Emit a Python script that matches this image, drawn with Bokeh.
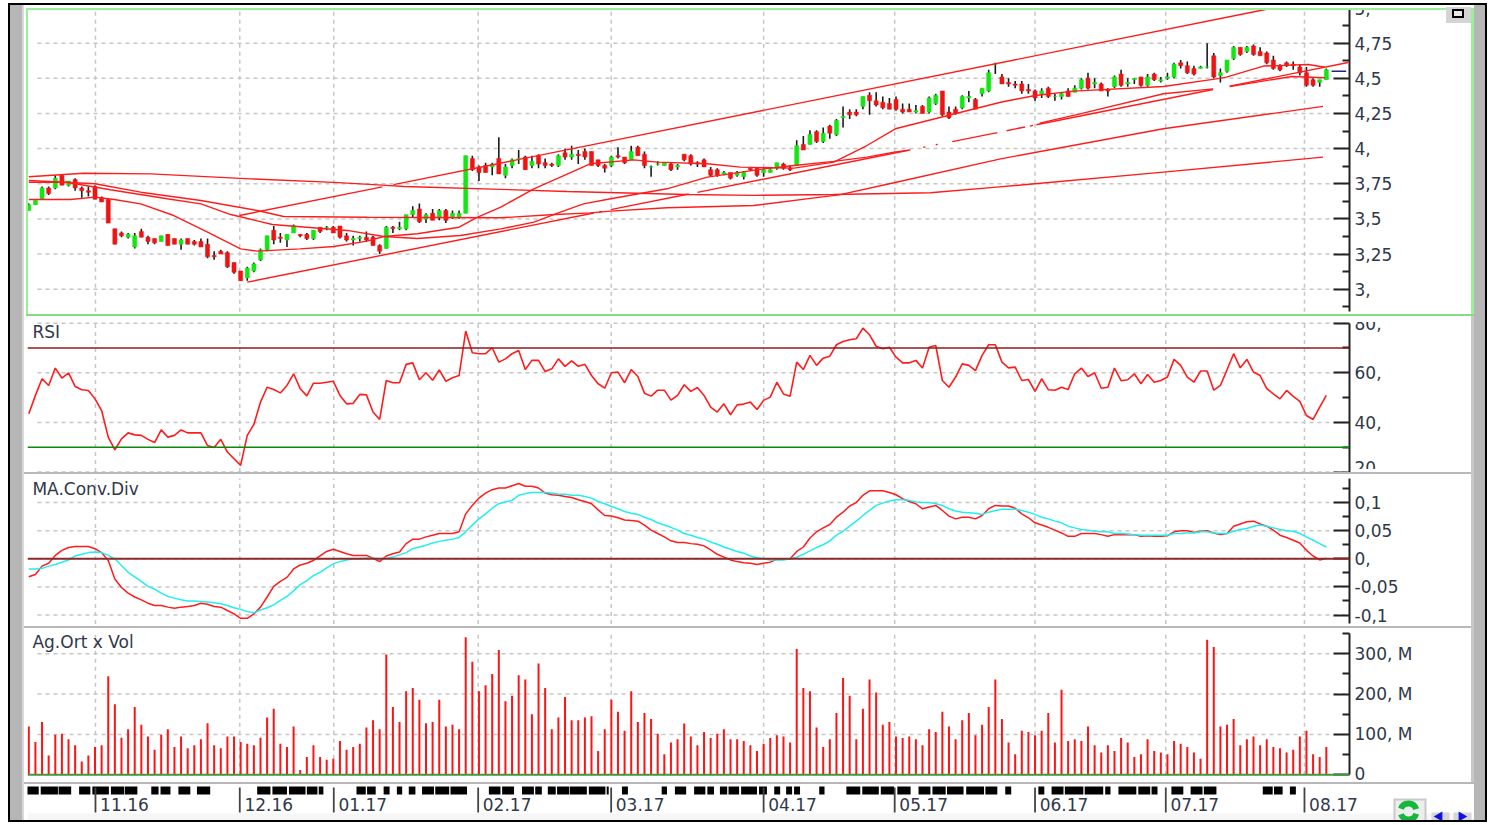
import math
from bokeh.plotting import figure
from bokeh.layouts import column, row
from bokeh.models import Range1d, FixedTicker, Span, Div
from bokeh.core.properties import value
from bokeh.embed import file_html
from bokeh.resources import INLINE

# ---------- data ----------
month_ticks = [10.07, 31.87, 46.07, 67.88, 87.97, 111.0, 130.8, 152.0, 171.75, 192.7]
month_labels = ["11.16", "12.16", "01.17", "02.17", "03.17", "04.17", "05.17", "06.17", "07.17", "08.17"]

opens = [3.56,3.60,3.64,3.72,3.72,3.81,3.74,3.78,3.72,3.70,
 3.73,3.65,3.64,3.43,3.40,3.37,3.30,3.41,3.37,3.36,
 3.34,3.39,3.36,3.32,3.36,3.34,3.34,3.32,3.24,3.27,
 3.26,3.19,3.13,3.08,3.13,3.21,3.28,3.42,3.37,3.35,
 3.40,3.39,3.39,3.36,3.44,3.44,3.44,3.45,3.38,3.35,
 3.36,3.37,3.37,3.31,3.29,3.44,3.43,3.43,3.53,3.57,
 3.50,3.54,3.51,3.56,3.51,3.51,3.54,3.93,3.87,3.88,
 3.87,3.93,3.81,3.88,3.93,3.94,3.88,3.95,3.90,3.89,
 3.88,3.97,3.94,3.96,3.98,3.98,3.92,3.88,3.88,3.95,
 3.94,3.92,4.01,3.96,3.87,3.89,3.88,3.89,3.87,3.96,
 3.95,3.90,3.92,3.85,3.85,3.82,3.83,3.81,3.80,3.86,
 3.86,3.83,3.83,3.86,3.89,3.86,3.88,4.03,4.03,4.12,
 4.05,4.16,4.10,4.22,4.26,4.26,4.30,4.38,4.34,4.33,
 4.32,4.35,4.28,4.28,4.26,4.30,4.26,4.32,4.41,4.26,
 4.28,4.29,4.36,4.35,4.39,4.41,4.60,4.51,4.47,4.46,
 4.46,4.42,4.41,4.39,4.43,4.37,4.37,4.41,4.40,4.43,
 4.50,4.46,4.46,4.42,4.44,4.53,4.46,4.49,4.51,4.45,
 4.53,4.48,4.50,4.51,4.61,4.59,4.57,4.57,4.58,4.66,
 4.52,4.55,4.64,4.72,4.69,4.73,4.69,4.68,4.63,4.59,
 4.61,4.60,4.58,4.54,4.49,4.47,4.49]
highs = [3.61,3.63,3.73,3.73,3.81,3.81,3.77,3.79,3.73,3.73,
 3.74,3.66,3.64,3.43,3.41,3.40,3.40,3.43,3.38,3.36,
 3.38,3.39,3.36,3.36,3.36,3.35,3.36,3.36,3.27,3.28,
 3.27,3.19,3.13,3.16,3.19,3.29,3.38,3.45,3.40,3.39,
 3.46,3.39,3.40,3.42,3.44,3.45,3.45,3.45,3.40,3.38,
 3.38,3.41,3.38,3.32,3.45,3.45,3.48,3.53,3.59,3.61,
 3.54,3.57,3.57,3.57,3.56,3.56,3.95,3.95,3.88,3.90,
 3.90,4.08,3.89,3.93,3.99,3.95,3.95,3.96,3.93,3.90,
 3.96,4.00,4.02,3.99,4.00,3.98,3.92,3.89,3.95,4.01,
 3.94,4.02,4.02,3.98,3.88,3.91,3.90,3.90,3.89,3.96,
 3.96,3.91,3.93,3.87,3.86,3.84,3.83,3.84,3.84,3.86,
 3.86,3.86,3.86,3.90,3.90,3.88,4.06,4.09,4.13,4.13,
 4.15,4.17,4.21,4.30,4.28,4.28,4.37,4.40,4.40,4.37,
 4.36,4.37,4.32,4.32,4.31,4.31,4.37,4.39,4.41,4.30,
 4.30,4.38,4.41,4.36,4.43,4.56,4.61,4.53,4.50,4.48,
 4.48,4.46,4.42,4.43,4.44,4.39,4.40,4.43,4.45,4.50,
 4.54,4.50,4.47,4.43,4.52,4.56,4.50,4.50,4.51,4.53,
 4.54,4.51,4.54,4.61,4.63,4.62,4.59,4.59,4.75,4.68,
 4.57,4.63,4.73,4.72,4.73,4.74,4.72,4.69,4.66,4.60,
 4.62,4.62,4.60,4.58,4.50,4.49,4.57]
lows = [3.56,3.60,3.64,3.67,3.71,3.74,3.73,3.70,3.65,3.66,
 3.64,3.62,3.47,3.32,3.37,3.36,3.29,3.37,3.32,3.32,
 3.34,3.31,3.32,3.28,3.32,3.31,3.30,3.22,3.21,3.25,
 3.15,3.11,3.06,3.06,3.12,3.20,3.27,3.32,3.33,3.30,
 3.40,3.37,3.35,3.35,3.40,3.42,3.40,3.36,3.34,3.31,
 3.34,3.34,3.31,3.25,3.29,3.40,3.42,3.42,3.51,3.47,
 3.47,3.49,3.49,3.47,3.50,3.50,3.54,3.84,3.77,3.83,
 3.81,3.82,3.79,3.86,3.89,3.85,3.86,3.86,3.86,3.87,
 3.87,3.92,3.92,3.89,3.92,3.88,3.87,3.83,3.87,3.93,
 3.89,3.92,3.95,3.86,3.80,3.88,3.88,3.84,3.85,3.91,
 3.88,3.87,3.87,3.80,3.80,3.81,3.78,3.80,3.78,3.84,
 3.80,3.80,3.83,3.85,3.85,3.84,3.88,3.99,4.03,4.04,
 4.04,4.07,4.09,4.15,4.21,4.23,4.28,4.24,4.30,4.28,
 4.28,4.27,4.25,4.26,4.25,4.25,4.25,4.31,4.23,4.21,
 4.24,4.28,4.33,4.28,4.37,4.40,4.53,4.46,4.44,4.43,
 4.39,4.39,4.34,4.36,4.36,4.34,4.35,4.37,4.40,4.42,
 4.42,4.43,4.41,4.37,4.43,4.44,4.44,4.46,4.44,4.44,
 4.48,4.47,4.49,4.50,4.57,4.53,4.52,4.57,4.57,4.50,
 4.47,4.54,4.63,4.66,4.68,4.66,4.66,4.60,4.56,4.55,
 4.58,4.56,4.52,4.44,4.44,4.44,4.49]
closes = [3.60,3.63,3.72,3.68,3.79,3.74,3.77,3.72,3.70,3.69,
 3.64,3.62,3.47,3.32,3.38,3.39,3.38,3.37,3.34,3.33,
 3.38,3.31,3.32,3.35,3.32,3.32,3.30,3.23,3.23,3.25,
 3.16,3.12,3.06,3.15,3.18,3.28,3.38,3.35,3.36,3.39,
 3.45,3.38,3.36,3.42,3.41,3.44,3.40,3.37,3.35,3.36,
 3.37,3.35,3.31,3.27,3.44,3.43,3.44,3.53,3.56,3.48,
 3.53,3.49,3.56,3.49,3.54,3.54,3.95,3.85,3.83,3.83,
 3.89,3.82,3.87,3.92,3.93,3.85,3.91,3.89,3.88,3.88,
 3.95,3.94,3.96,3.95,3.94,3.88,3.88,3.86,3.94,3.94,
 3.90,3.98,3.95,3.88,3.87,3.89,3.90,3.85,3.88,3.92,
 3.89,3.89,3.87,3.81,3.81,3.83,3.79,3.83,3.83,3.85,
 3.81,3.85,3.85,3.90,3.86,3.85,4.02,3.99,4.10,4.05,
 4.11,4.11,4.20,4.23,4.24,4.24,4.37,4.34,4.31,4.29,
 4.28,4.28,4.26,4.26,4.27,4.25,4.36,4.38,4.24,4.22,
 4.25,4.37,4.37,4.28,4.43,4.54,4.60,4.46,4.46,4.45,
 4.41,4.41,4.36,4.41,4.37,4.37,4.39,4.37,4.43,4.49,
 4.43,4.47,4.41,4.41,4.51,4.45,4.47,4.50,4.45,4.51,
 4.49,4.49,4.51,4.60,4.59,4.54,4.53,4.58,4.58,4.51,
 4.54,4.63,4.72,4.67,4.72,4.67,4.66,4.61,4.57,4.56,
 4.59,4.59,4.54,4.45,4.45,4.49,4.56]

rsi = [43.5,50.9,57.6,54.9,61.9,57.9,60,54.5,53.2,52.9,
 49.5,44.8,34.1,29,33.4,35.8,35,34.8,33.2,31.9,
 37,34.1,34.8,37,35.8,35.8,35.8,30.7,29.9,33.2,
 28.1,25.4,22.7,34.8,39.2,48.2,54.2,53.3,51.9,54.9,
 59.6,53.6,50.7,55.8,55.8,56.2,56.6,50.9,47.5,47.7,
 51.3,51.1,44.2,41.2,56.9,56,56,63.4,64,57.2,
 60,57,61.2,56.6,58,58.9,76.8,68.1,67.7,67.7,
 70.1,64.3,65.6,67.7,69,61.3,65,65,60.5,61.6,
 65.6,62.6,64.8,62.6,63.4,58.9,55.6,53.8,60,60.3,
 56,61.3,58.5,51.8,50.6,53,53,49,50.9,55.2,
 52.5,54.1,50.9,46.2,44.2,47.5,43.1,47.1,47.4,48.2,
 45.2,48.9,50.2,56.2,51.5,50.6,64.3,61.3,67,63,
 65.9,66.7,71.3,72.6,73.3,73.7,78,75.3,70.7,69.7,
 70.3,66.3,64,64,65,61.9,70.3,71,56.9,54.2,
 58.3,63.6,63,60.9,67,71.3,71.3,64.3,62,62.3,
 56.9,57.3,52.5,57.6,53.2,53,54.2,53.3,59.6,61.9,
 58.5,60,53.8,54.2,61.9,56.8,57.2,59.6,55.6,59.3,
 56.2,56.9,58.3,65.4,63,58.3,56.2,60.7,60.7,53,
 54.9,61.2,67.7,62,65.4,60.3,58.9,53.6,51.5,49.5,
 52.9,50.5,48.5,42.8,41.2,46.2,50.9]

macd = [-.032,-.028,-.013,-.008,.006,.015,.020,.022,.022,.022,
 .018,.011,-.003,-.036,-.051,-.061,-.068,-.073,-.079,-.083,
 -.083,-.086,-.088,-.086,-.085,-.083,-.079,-.081,-.085,-.086,
 -.092,-.098,-.106,-.106,-.098,-.086,-.068,-.049,-.040,-.033,
 -.018,-.011,-.008,-.003,.005,.013,.017,.013,.009,.006,
 .006,.006,.001,-.005,.005,.009,.012,.027,.035,.035,
 .039,.042,.045,.045,.045,.048,.080,.095,.108,.117,
 .123,.126,.126,.130,.134,.129,.129,.126,.117,.114,
 .113,.111,.109,.105,.102,.098,.087,.077,.076,.073,
 .069,.068,.067,.060,.051,.045,.039,.032,.029,.029,
 .027,.026,.023,.016,.008,.003,-.002,-.005,-.007,-.008,
 -.010,-.008,-.006,-.001,-.001,0,.013,.021,.037,.048,
 .055,.061,.074,.083,.094,.100,.113,.121,.121,.121,
 .118,.114,.107,.102,.098,.089,.092,.095,.086,.076,
 .071,.074,.074,.071,.077,.089,.095,.094,.094,.090,
 .080,.073,.064,.060,.056,.051,.046,.040,.040,.045,
 .045,.045,.043,.040,.043,.043,.043,.043,.040,.041,
 .040,.040,.041,.048,.050,.050,.047,.049,.050,.046,
 .043,.045,.058,.062,.066,.067,.062,.058,.051,.042,
 .038,.033,.028,.015,.005,-.002,.001]
signal = [-.018,-.018,-.017,-.013,-.010,-.006,-.002,.005,.008,.011,
 .012,.011,.006,0,-.012,-.024,-.032,-.040,-.049,-.054,
 -.061,-.067,-.070,-.073,-.075,-.075,-.076,-.077,-.078,-.080,
 -.083,-.087,-.090,-.094,-.096,-.091,-.087,-.082,-.074,-.067,
 -.057,-.046,-.039,-.030,-.024,-.016,-.009,-.005,-.002,0,
 0,.001,.001,0,.001,.003,.007,.011,.018,.021,
 .024,.028,.031,.033,.035,.038,.048,.060,.071,.080,
 .090,.098,.101,.104,.113,.116,.118,.118,.118,.117,
 .115,.115,.113,.113,.111,.108,.102,.098,.093,.089,
 .084,.081,.079,.074,.070,.064,.060,.056,.051,.045,
 .042,.038,.035,.030,.026,.021,.017,.013,.010,.005,
 .002,0,-.002,-.002,-.002,0,.003,.008,.014,.020,
 .025,.032,.042,.049,.058,.067,.077,.086,.095,.099,
 .103,.105,.105,.104,.101,.100,.100,.098,.095,.089,
 .085,.083,.082,.081,.079,.083,.086,.088,.088,.088,
 .086,.083,.079,.074,.071,.067,.064,.058,.055,.052,
 .051,.049,.048,.048,.045,.045,.044,.043,.042,.042,
 .042,.042,.042,.045,.045,.046,.046,.048,.048,.046,
 .045,.045,.049,.052,.054,.058,.060,.058,.055,.052,
 .050,.049,.045,.039,.033,.027,.021]

volume = [120,81,131,48,99,102,88,73,33,48,
 69,73,244,175,92,113,168,124,95,62,
 99,113,69,95,66,73,88,128,73,66,
 95,95,81,77,73,92,142,164,77,69,
 120,12,44,73,44,37,40,84,62,69,
 77,117,135,113,298,168,131,207,215,186,
 128,131,186,120,124,113,341,280,207,222,
 250,309,182,196,247,236,150,276,215,113,
 142,193,135,135,142,145,59,113,186,156,
 109,207,131,153,138,102,51,80,88,127,
 95,73,106,91,102,113,88,88,84,73,
 59,77,91,98,95,80,312,215,207,117,
 69,88,153,240,196,88,164,236,204,124,
 131,95,91,95,88,73,113,106,156,120,
 88,135,153,98,124,168,236,138,80,51,
 109,106,98,109,153,80,211,84,88,84,
 120,73,55,73,59,91,80,44,51,88,
 59,55,51,84,77,69,55,40,335,317,
 120,124,138,73,88,95,73,88,69,66,
 55,62,95,109,51,44,69]

# overlay lines on the price panel: day index and price, read at their bends; None marks a break in the line
upper_x = [31.8, 53.4, None, 55.1, 186.8]
upper_y = [3.524, 3.728, None, 3.744, 4.989]
lower_x = [33.0,85.35,None,86.15,86.6,None,87.9,99.7,None,101,132.9,None,135.1,135.45,None,137,137.3,None,139.5,146.3,None,147.7,150.5,None,151.2,151.7,None,152.2,178.9,None,181.4,199.3]
lower_y = [3.05,3.542,None,3.549,3.553,None,3.566,3.677,None,3.689,3.988,None,4.009,4.012,None,4.027,4.030,None,4.050,4.114,None,4.127,4.154,None,4.160,4.165,None,4.170,4.420,None,4.444,4.612]
slow_x = [0,8.3,18.4,33.5,46.1,53.4,56.7,71.3,81.3,99.4,109.5,121.6,136.2,146.2,152,171.4,195.5]
slow_y = [3.80,3.825,3.82,3.785,3.76,3.74,3.73,3.71,3.695,3.674,3.667,3.674,3.686,3.726,3.75,3.833,3.939]
mid_x = [0,10,16.9,26,34.5,38.5,51.1,71.3,78.8,84.8,87.9,96.4,109.5,119.6,122.4,130.7,146.8,171.4,195.5]
mid_y = [3.773,3.75,3.69,3.631,3.56,3.517,3.512,3.508,3.529,3.543,3.555,3.579,3.595,3.655,3.671,3.757,3.927,4.141,4.30]
third_x = [0,5.8,12.3,20.9,26,30.5,36.8,48.1,53.6,58.7,65.2,71.3,76.3,80.3,83.8,87.9,96.4,102.5,111,115.6,121.6,126.6,130.7,133.2,None,152.7,158.8,171.4,178.9,None,181.4,190.8,195.8]
third_y = [3.761,3.761,3.707,3.643,3.607,3.531,3.46,3.418,3.375,3.361,3.382,3.429,3.477,3.548,3.607,3.643,3.714,3.797,3.856,3.88,3.909,3.939,3.975,3.991,None,4.181,4.247,4.39,4.425,None,4.442,4.513,4.504]
fast_x = [0,6.3,10,12.9,16.9,21.9,27,32,34.5,41,46.1,51.1,53.6,58.7,65,67.8,71.3,76.3,84.8,91.4,94.9,102.5,107.5,115.6,121.6,126.6,130.9,146.8,152,157.8,171.4,179.4,180.9,186.5,193.3,195.8]
fast_y = [3.638,3.638,3.655,3.638,3.607,3.524,3.406,3.287,3.271,3.287,3.304,3.342,3.375,3.394,3.441,3.512,3.584,3.714,3.892,3.92,3.904,3.892,3.868,3.861,3.904,4.022,4.141,4.33,4.378,4.409,4.442,4.496,4.508,4.587,4.598,4.579]
last_marker_x, last_marker_y = [196.8, 199.0], [4.55, 4.55]

price_ticks = [3, 3.25, 3.5, 3.75, 4, 4.25, 4.5, 4.75, 5]
price_labels = ["3,", "3,25", "3,5", "3,75", "4,", "4,25", "4,5", "4,75", "5,"]
price_minor = [2.875, 3.125, 3.375, 3.625, 3.875, 4.125, 4.375, 4.625, 4.875]
rsi_ticks, rsi_labels, rsi_minor = [20, 40, 60, 80], ["20,", "40,", "60,", "80,"], [30, 50, 70]
macd_ticks = [-0.1, -0.05, 0, 0.05, 0.1]
macd_labels = ["-0,1", "-0,05", "0,", "0,05", "0,1"]
macd_minor = [-0.075, -0.025, 0.025, 0.075, 0.125]
vol_ticks, vol_labels, vol_minor = [0, 100, 200, 300], ["0", "100, M", "200, M", "300, M"], [50, 150, 250, 350]

# sessions marked in the date strip: start and end, in day index
day_blocks = [(-1,1.5),(1.8,4.4),(4.5,6.4),(7.6,9.3),(9.6,12.1),(12.4,14.4),(14.5,16.4),(18.5,19.6),(19.9,21.4),
 (22.6,24.4),(25.4,27.4),(34.5,36.5),(36.8,39),(39.3,41.8),(42,43.6),(43.8,44.5),(49.5,50.9),(51.1,52.4),
 (53.6,54.5),(55.6,56.4),(57.4,58.4),(59.4,61.2),(61.4,63.5),(63.7,66.2),(69.5,71.25),(71.5,73.3),(74.5,76.3),
 (76.5,77.5),(78.4,79.6),(79.8,81.6),(81.7,84.3),(84.6,87.1),(87.3,87.6),(89.6,90.5),(95.6,96.4),(97.6,99.3),
 (100.5,102.2),(102.5,103.5),(104.4,105.5),(105.7,107.3),(107.6,110),(110.3,111.5),(112.6,113.5),(114.4,115.3),
 (115.6,116.5),(119.4,120.2),(123.5,125.6),(125.9,128.4),(128.7,130.7),(131.2,133.2),(134.4,136.2),(136.5,138.5),
 (138.7,141.2),(141.6,144.3),(144.5,146.3),(147.5,148.4),(152.5,153.4),(154.5,156.3),(156.5,159.3),(159.5,162.3),
 (162.6,163.4),(164.6,167.3),(167.6,169.4),(169.6,170.5),(172.6,174.4),(175.5,177.3),(177.5,179.4),(186.4,187.9),
 (188.1,189.4),(190.5,191.4)]

assert len(opens) == len(highs) == len(lows) == len(closes) == len(rsi) == len(macd) == len(signal) == len(volume) == 197

# ---------- style ----------
days = list(range(197))
SPACE = 6.62
X0 = 28.3
FONT = "DejaVu Sans"
FS = "17px"
RED = "#ff1c1c"
TXT = "#30384a"
GRIDC = "#c6c6c6"
FRAME_W = 1322

def px2day(px):
    return (px - X0) / SPACE

def nn(v):
    return [float("nan") if a is None else a for a in v]

def panel(h_total, top_pad, frame_h, y0, y1, ticks, labels, minor, bounds):
    p = figure(frame_width=FRAME_W, frame_height=frame_h, min_border_left=0, min_border_right=147,
               min_border_top=top_pad, min_border_bottom=h_total - top_pad - frame_h, frame_align=False,
               x_range=Range1d(px2day(27), px2day(27 + FRAME_W)), y_range=Range1d(y0, y1),
               x_axis_location=None, y_axis_location="right", toolbar_location=None, output_backend="svg",
               background_fill_color="white", border_fill_color="white", outline_line_color=None)
    p.grid.visible = False
    ax = p.yaxis[0]
    ax.ticker = FixedTicker(ticks=ticks, minor_ticks=minor)
    ax.major_label_overrides = dict(zip(ticks, labels))
    ax.bounds = bounds
    ax.axis_line_color = "#222222"
    ax.axis_line_width = 2
    ax.major_tick_line_color = "#222222"
    ax.major_tick_line_width = 2
    ax.minor_tick_line_color = "#222222"
    ax.minor_tick_line_width = 2
    ax.major_tick_in, ax.major_tick_out = 16, 0
    ax.minor_tick_in, ax.minor_tick_out = 7, 0
    ax.major_label_standoff = 5
    ax.major_label_text_font = FONT
    ax.major_label_text_font_size = FS
    ax.major_label_text_color = TXT
    p.segment(x0=[px2day(37)] * len(ticks), x1=[px2day(1349)] * len(ticks), y0=ticks, y1=ticks,
              line_color=GRIDC, line_width=1.5, line_dash="4 4")
    vlo, vhi = bounds
    p.segment(x0=month_ticks, x1=month_ticks, y0=[vlo] * len(month_ticks), y1=[vhi] * len(month_ticks),
              line_color=GRIDC, line_width=1.5, line_dash="4 4")
    return p

# window chrome, in page pixels, laid over the panels
chrome = []
def rect(l, t, r, b, c):
    chrome.append(f'<div style="position:fixed;left:{l}px;top:{t}px;width:{r-l}px;height:{b-t}px;background:{c};z-index:10"></div>')

rect(0, 0, 1496, 3, "#ffffff")
rect(8, 3, 1487, 5, "#000000")
rect(24, 5, 1471, 8, "#ffffff")
rect(8, 5, 10, 822, "#000000")
rect(10, 5, 22, 820, "#b6b6b6")
rect(22, 5, 24, 820, "#d8d8d8")
rect(1474, 5, 1485, 820, "#b6b6b6")
rect(1485, 5, 1487, 822, "#000000")
rect(1471, 316, 1474, 783, "#c8c8c8")
rect(26, 8, 1474, 10, "#98f098")
rect(26, 8, 28, 315, "#98f098")
rect(1471, 8, 1474, 315, "#98f098")
rect(26, 314, 1474, 316, "#84dc84")
rect(1446, 7, 1471, 23, "#d4d4d4")
rect(1452, 9, 1464, 18, "#000000")
rect(1454, 11, 1462, 16, "#e8e8e8")
rect(1351, 316, 1470, 322, "#ffffff")
rect(1351, 469, 1470, 472, "#ffffff")
rect(24, 472, 1471, 474, "#b8b8b8")
rect(24, 626, 1471, 628, "#b8b8b8")
rect(24, 782, 1474, 784, "#b8b8b8")
rect(8, 820, 1487, 822, "#000000")
rect(0, 822, 1496, 825, "#ffffff")

# ---------- price ----------
p1 = panel(316, 7, 308, 3 + (288.7 - 315) / 140.6, 3 + (288.7 - 7) / 140.6,
           price_ticks, price_labels, price_minor, (2.84, 5.0))
p1.segment(days, lows, days, highs, line_color="#1c1c1c", line_width=1.6)
up = [i for i in days if closes[i] >= opens[i]]
dn = [i for i in days if closes[i] < opens[i]]
p1.vbar(up, width=0.62, bottom=[opens[i] for i in up], top=[closes[i] for i in up],
        fill_color="#14e614", line_color="#14e614", line_width=0.5)
p1.vbar(dn, width=0.62, bottom=[closes[i] for i in dn], top=[opens[i] for i in dn],
        fill_color="#ee1414", line_color="#ee1414", line_width=0.5)
for xs, ys in [(upper_x, upper_y), (lower_x, lower_y), (slow_x, slow_y), (mid_x, mid_y), (third_x, third_y), (fast_x, fast_y)]:
    p1.line(nn(xs), nn(ys), line_color=RED, line_width=1.4)
p1.line(last_marker_x, last_marker_y, line_color="#20208c", line_width=1.5)

# ---------- RSI ----------
p2 = panel(157, 1, 155, 60 - (472 - 372.3) / 2.483, 60 + (372.3 - 317) / 2.483,
           rsi_ticks, rsi_labels, rsi_minor, (20, 80))
p2.add_layout(Span(location=70, dimension="width", line_color="#8c1c1c", line_width=1.5))
p2.add_layout(Span(location=30, dimension="width", line_color="#0a8a0a", line_width=1.5))
p2.line(days, rsi, line_color=RED, line_width=1.6)
p2.text(x=[0.55], y=[60 + (372.3 - 331) / 2.483], text=["RSI"], text_font=value(FONT), text_font_size=FS,
        text_color=TXT, text_baseline="middle")

# ---------- MACD ----------
p3 = panel(154, 1, 152, -(626 - 558.3) / 562, (558.3 - 474) / 562,
           macd_ticks, macd_labels, macd_minor, (-0.116, 0.1429))
p3.add_layout(Span(location=0, dimension="width", line_color="#8c2a2a", line_width=2))
p3.line(days, macd, line_color=RED, line_width=1.5)
p3.line(days, signal, line_color="#22eeee", line_width=1.5)
p3.text(x=[0.55], y=[(558.3 - 488) / 562], text=["MA.Conv.Div"], text_font=value(FONT), text_font_size=FS,
        text_color=TXT, text_baseline="middle")

# ---------- volume ----------
p4 = panel(156, 1, 154, -(782 - 774.3) / 0.4035, (774.3 - 628) / 0.4035,
           vol_ticks, vol_labels, vol_minor, (0, 350))
p4.segment(days, [0] * 197, days, volume, line_color="#ff1414", line_width=2)
p4.add_layout(Span(location=0, dimension="width", line_color="#3f9a3f", line_width=2))
p4.text(x=[0.55], y=[(774.3 - 641) / 0.4035], text=["Ag.Ort x Vol"], text_font=value(FONT), text_font_size=FS,
        text_color=TXT, text_baseline="middle")

# ---------- date strip ----------
p5 = figure(frame_width=1469, frame_height=42, min_border=0, frame_align=False,
            x_range=Range1d(px2day(27), px2day(1496)),
            y_range=Range1d(42, 0), x_axis_location=None, y_axis_location=None, toolbar_location=None,
            output_backend="svg", background_fill_color="white", border_fill_color="white", outline_line_color=None)
p5.grid.visible = False
p5.quad(left=[px2day(27)], right=[px2day(1471)], top=[30], bottom=[37], fill_color="#f6f6f6", line_color=None)
p5.quad(left=[b[0] for b in day_blocks], right=[b[1] for b in day_blocks], top=[3] * len(day_blocks),
        bottom=[11] * len(day_blocks), fill_color="#000000", line_color=None)
p5.segment(month_ticks, [4] * 10, month_ticks, [29] * 10, line_color="#444444", line_width=1.8)
p5.text(x=[m + 0.7 for m in month_ticks], y=[21] * 10, text=month_labels, text_font=value(FONT),
        text_font_size=FS, text_color=TXT, text_baseline="middle")
p5.quad(left=[px2day(1393)], right=[px2day(1426)], top=[15], bottom=[37], fill_color="#c9c9c9", line_color=None)
p5.quad(left=[px2day(1395)], right=[px2day(1424)], top=[17], bottom=[37], fill_color="#eeeeee", line_color=None)
p5.annular_wedge(x=[px2day(1408)], y=[28], inner_radius=5, outer_radius=11, inner_radius_units="screen",
                 outer_radius_units="screen", start_angle=[0.3], end_angle=[2.8], fill_color="#16b83c", line_color=None)
p5.annular_wedge(x=[px2day(1408)], y=[28], inner_radius=5, outer_radius=11, inner_radius_units="screen",
                 outer_radius_units="screen", start_angle=[3.5], end_angle=[6.0], fill_color="#16b83c", line_color=None)
p5.quad(left=[px2day(1431), px2day(1453)], right=[px2day(1449), px2day(1471)], top=[29, 29], bottom=[37, 37],
        fill_color="#d6d6d6", line_color=None)
p5.scatter(x=[px2day(1439), px2day(1461)], y=[33, 33], marker="triangle", size=10, angle=[math.pi / 2, -math.pi / 2],
           fill_color="#1010e0", line_color=None)

left_chrome = Div(text="".join(chrome), width=27, height=825, margin=0)
page = row(left_chrome, column(p1, p2, p3, p4, p5, spacing=0), spacing=0)
open("out.html", "w").write(file_html(page, INLINE))
